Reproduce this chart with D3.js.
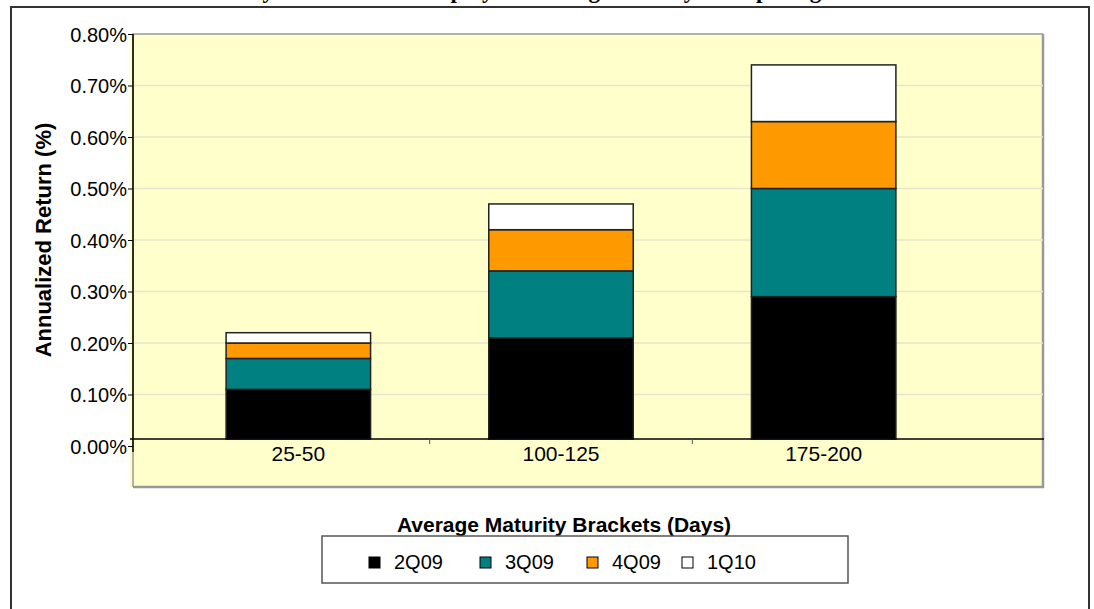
<!DOCTYPE html>
<html>
<head>
<meta charset="utf-8">
<script src="https://cdn.jsdelivr.net/npm/d3@7"></script>
<style>
  body { margin: 0; background: #fff; }
  text { font-family: "Liberation Sans", Arial, sans-serif; }
</style>
</head>
<body>
<div id="chart"></div>
<script>
// data (percent values, stacked per bracket)
var brackets = ["25-50", "100-125", "175-200"];
var seriesNames = ["2Q09", "3Q09", "4Q09", "1Q10"];
var q2_09 = [0.11, 0.21, 0.29];
var q3_09 = [0.06, 0.13, 0.21];
var q4_09 = [0.03, 0.08, 0.13];
var q1_10 = [0.02, 0.05, 0.11];
var yTicks = [0, 0.1, 0.2, 0.3, 0.4, 0.5, 0.6, 0.7, 0.8];
var axisCross = 0.0135; // category axis crosses slightly above 0

var colors = ["#000000", "#008080", "#FF9900", "#FFFFFF"];
var w = 1094, h = 609;

var svg = d3.select("#chart").append("svg")
    .attr("width", w)
    .attr("height", h);

// outer frame
svg.append("rect")
    .attr("x", 11).attr("y", 7)
    .attr("width", 1078).attr("height", 640)
    .attr("fill", "#fff")
    .attr("stroke", "#333").attr("stroke-width", 2);

// title, cut off by the top of the picture
svg.append("text")
    .attr("x", 560).attr("y", -2)
    .attr("text-anchor", "middle")
    .style("font-family", "'Liberation Serif', 'Times New Roman', serif")
    .style("font-weight", "bold")
    .style("font-size", "23px")
    .text("Money Fund Yield Pickup by Extending Maturity: Comparing Brackets");

var plot = { left: 133, right: 1043, top: 34, bottom: 487 };

// plot area
svg.append("rect")
    .attr("x", plot.left - 3).attr("y", plot.top)
    .attr("width", plot.right - plot.left + 3).attr("height", plot.bottom - plot.top)
    .attr("fill", "#FFFFCC");
svg.append("path")
    .attr("d", "M" + (plot.left) + "," + plot.bottom + "V" + plot.top + "H" + plot.right)
    .attr("fill", "none").attr("stroke", "#999").attr("stroke-width", 1.5);
svg.append("path")
    .attr("d", "M" + plot.right + "," + plot.top + "V" + plot.bottom + "H" + plot.left)
    .attr("fill", "none").attr("stroke", "#999").attr("stroke-width", 2.5);

var y = d3.scaleLinear().domain([0, 0.8]).range([446, plot.top]);
var x = d3.scaleBand().domain(brackets).range([167, 955]).paddingInner(0.45).paddingOuter(0.225);

// gridlines
svg.append("g").selectAll("line")
    .data(yTicks.filter(function (d) { return d > 0 && d < 0.8; }))
    .enter().append("line")
    .attr("x1", plot.left).attr("x2", plot.right)
    .attr("y1", function (d) { return y(d); })
    .attr("y2", function (d) { return y(d); })
    .attr("stroke", "#E6E6CC").attr("stroke-width", 1.5);

// stacked bars
var table = brackets.map(function (b, i) {
    return { bracket: b, "2Q09": q2_09[i], "3Q09": q3_09[i], "4Q09": q4_09[i], "1Q10": q1_10[i] };
});
var stack = d3.stack().keys(seriesNames)(table);

svg.append("g").selectAll("g")
    .data(stack)
    .enter().append("g")
    .attr("fill", function (d, i) { return colors[i]; })
    .selectAll("rect")
    .data(function (d) { return d; })
    .enter().append("rect")
    .attr("x", function (d) { return x(d.data.bracket); })
    .attr("width", x.bandwidth())
    .attr("y", function (d) { return y(d[1]); })
    .attr("height", function (d) { return y(Math.max(d[0], axisCross)) - y(d[1]); })
    .attr("stroke", "#222").attr("stroke-width", 1.5);

// y axis
var yAxis = d3.axisLeft(y)
    .tickValues(yTicks)
    .tickSize(5)
    .tickFormat(function (d) { return d3.format(".2f")(d) + "%"; });
var yg = svg.append("g")
    .attr("transform", "translate(" + plot.left + ",0)")
    .call(yAxis);
yg.select(".domain").attr("d", "M0," + plot.top + "V" + (y(0) + 6)).attr("stroke", "#000").attr("stroke-width", 1.5);
yg.selectAll(".tick line").attr("stroke", "#000");
yg.selectAll(".tick text")
    .attr("x", -6).attr("dy", "0.35em")
    .style("font-size", "20px").style("font-family", "'Liberation Sans', Arial, sans-serif").attr("fill", "#000");

// category axis
var cross = y(axisCross);
svg.append("line")
    .attr("x1", plot.left - 3).attr("x2", plot.right + 1)
    .attr("y1", cross).attr("y2", cross)
    .attr("stroke", "#000").attr("stroke-width", 1.5);
svg.append("g").selectAll("line")
    .data(brackets.slice(1))
    .enter().append("line")
    .attr("x1", function (d) { return x(d) - x.step() * x.paddingInner() / 2; })
    .attr("x2", function (d) { return x(d) - x.step() * x.paddingInner() / 2; })
    .attr("y1", cross).attr("y2", cross + 5)
    .attr("stroke", "#555");
svg.append("g").selectAll("text")
    .data(brackets)
    .enter().append("text")
    .attr("x", function (d) { return x(d) + x.bandwidth() / 2; })
    .attr("y", cross + 22)
    .attr("text-anchor", "middle")
    .style("font-size", "21px")
    .text(function (d) { return d; });

// axis titles
svg.append("text")
    .attr("transform", "translate(51,240) rotate(-90)")
    .attr("text-anchor", "middle")
    .style("font-size", "22px").style("font-weight", "bold")
    .text("Annualized Return (%)");
svg.append("text")
    .attr("x", 564).attr("y", 532)
    .attr("text-anchor", "middle")
    .style("font-size", "21px").style("font-weight", "bold")
    .text("Average Maturity Brackets (Days)");

// legend
svg.append("rect")
    .attr("x", 322).attr("y", 536)
    .attr("width", 526).attr("height", 47)
    .attr("fill", "#fff").attr("stroke", "#555").attr("stroke-width", 1.5);
var legendX = [369, 480, 587, 682];
var lg = svg.append("g").selectAll("g")
    .data(seriesNames)
    .enter().append("g")
    .attr("transform", function (d, i) { return "translate(" + legendX[i] + ",557)"; });
lg.append("rect")
    .attr("width", 11).attr("height", 11)
    .attr("fill", function (d, i) { return colors[i]; })
    .attr("stroke", "#000").attr("stroke-width", 1);
lg.append("text")
    .attr("x", 25).attr("y", 12)
    .style("font-size", "20px")
    .text(function (d) { return d; });
</script>
</body>
</html>
